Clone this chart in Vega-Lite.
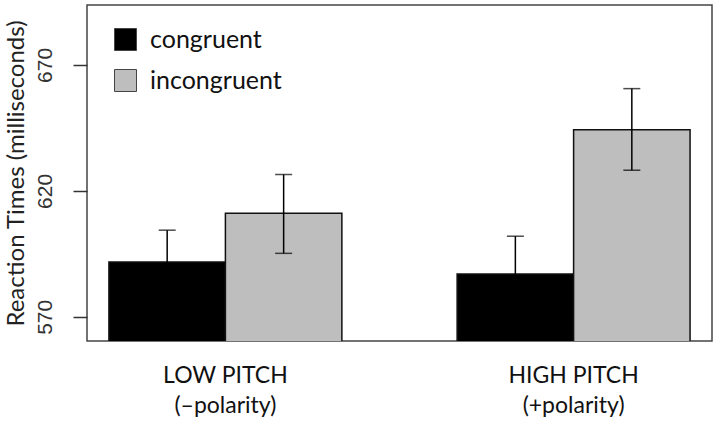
{
  "$schema": "https://vega.github.io/schema/vega-lite/v6.json",
  "autosize": {"type": "none"},
  "padding": {"left": 87, "top": 5, "right": 11, "bottom": 85},
  "width": 625,
  "height": 336,
  "background": "white",
  "data": {
    "values": [
      {"pitch": "LOW PITCH", "condition": "congruent", "rt": 591.8, "lo": 579.2, "hi": 604.4},
      {"pitch": "LOW PITCH", "condition": "incongruent", "rt": 611.1, "lo": 595.2, "hi": 626.5},
      {"pitch": "HIGH PITCH", "condition": "congruent", "rt": 587.0, "lo": 572.0, "hi": 602.0},
      {"pitch": "HIGH PITCH", "condition": "incongruent", "rt": 644.3, "lo": 628.2, "hi": 660.6}
    ]
  },
  "encoding": {
    "x": {
      "field": "pitch",
      "type": "nominal",
      "sort": null,
      "scale": {"paddingInner": 0.331, "paddingOuter": 0.063},
      "axis": {
        "title": null,
        "domain": false,
        "ticks": false,
        "labelAngle": 0,
        "labelFont": "Lato",
        "labelFontSize": 23,
        "labelColor": "#111",
        "labelPadding": 23,
        "labelLineHeight": 30,
        "labelExpr": "datum.value == 'LOW PITCH' ? ['LOW PITCH', '(\u2013polarity)'] : ['HIGH PITCH', '(+polarity)']"
      }
    },
    "xOffset": {
      "field": "condition",
      "type": "nominal",
      "scale": {"paddingInner": 0, "paddingOuter": 0}
    }
  },
  "layer": [
    {
      "mark": {"type": "bar", "stroke": "#111", "strokeWidth": 1.5, "clip": true},
      "encoding": {
        "y": {
          "field": "rt",
          "type": "quantitative",
          "scale": {"domain": [560.4, 693.8], "nice": false, "zero": false},
          "axis": {
            "values": [570, 620, 670],
            "grid": false,
            "domain": false,
            "tickSize": 14,
            "tickColor": "#333",
            "tickWidth": 1.5,
            "labelAngle": -90,
            "labelFont": "Liberation Sans",
            "labelFontSize": 21,
            "labelColor": "#333",
            "labelPadding": 18,
            "title": "Reaction Times (milliseconds)",
            "titleFont": "Lato",
            "titleFontSize": 24,
            "titleFontWeight": "normal",
            "titleColor": "#222",
            "titlePadding": 6
          }
        },
        "color": {
          "field": "condition",
          "type": "nominal",
          "scale": {"domain": ["congruent", "incongruent"], "range": ["#000000", "#bebebe"]},
          "legend": {
            "title": null,
            "orient": "none",
            "legendX": 26,
            "legendY": 22,
            "symbolType": "square",
            "symbolSize": 484,
            "symbolStrokeColor": "#444",
            "symbolStrokeWidth": 1,
            "symbolOpacity": 1,
            "labelFont": "Lato",
            "labelFontSize": 25,
            "labelColor": "#111",
            "labelOffset": 12,
            "rowPadding": 14
          }
        }
      }
    },
    {
      "mark": {"type": "rule", "color": "#000", "strokeWidth": 1.5},
      "encoding": {
        "y": {"field": "lo", "type": "quantitative"},
        "y2": {"field": "hi"}
      }
    },
    {
      "mark": {"type": "tick", "color": "#000", "thickness": 1.5, "size": 17},
      "encoding": {"y": {"field": "hi", "type": "quantitative"}}
    },
    {
      "mark": {"type": "tick", "color": "#000", "thickness": 1.5, "size": 17},
      "encoding": {"y": {"field": "lo", "type": "quantitative"}}
    }
  ],
  "config": {
    "view": {"stroke": "#444", "strokeWidth": 1.5}
  }
}
